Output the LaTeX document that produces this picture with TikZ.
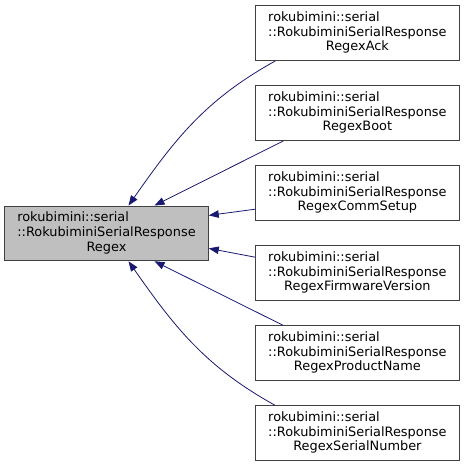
\documentclass[tikz,border=0pt]{standalone}
\usepackage{fontspec}
\setmainfont{DejaVu Sans}
\usetikzlibrary{arrows.meta,positioning}
\definecolor{edge}{HTML}{191970}
\definecolor{frame}{HTML}{404040}
\definecolor{basefill}{HTML}{BFBFBF}
\newcommand{\respname}[1]{\begin{tabular}{@{}l@{}}rokubimini::serial\\::RokubiminiSerialResponse\\\multicolumn{1}{@{}c@{}}{#1}\end{tabular}}

\begin{document}
\begin{tikzpicture}[x=1pt,y=1pt,font=\fontsize{12.9}{14.7}\selectfont,node distance=24.3pt,
cls/.style={draw=frame,line width=1pt,fill=white,inner sep=0pt,minimum width=203.5pt,minimum height=54.7pt},
arr/.style={{Triangle[length=10pt,width=7.5pt]}-,draw=edge,line width=.8pt}]
\useasboundingbox (0,0) rectangle (464,467);
\node[cls,fill=basefill](base) at (106.5,233.6){\respname{Regex}};
\node[cls](ack) at (357.4,433.8){\respname{RegexAck}};
\node[cls,below=of ack](boot){\respname{RegexBoot}};
\node[cls,below=of boot](comm){\respname{RegexCommSetup}};
\node[cls,below=of comm](firm){\respname{RegexFirmwareVersion}};
\node[cls,below=of firm](prod){\respname{RegexProductName}};
\node[cls,below=of prod](serno){\respname{RegexSerialNumber}};
\draw[arr]([xshift=22pt]base.north) to[out=55,in=209] ([xshift=20pt]ack.south west);
\draw[arr]([xshift=48pt]base.north) -- ([xshift=28pt]boot.south west);
\draw[arr]([yshift=18pt]base.east) -- ([yshift=-16pt]comm.west);
\draw[arr]([yshift=-15pt]base.east) -- ([yshift=16pt]firm.west);
\draw[arr]([xshift=48pt]base.south) -- ([xshift=28pt]prod.north west);
\draw[arr]([xshift=22pt]base.south) to[out=-55,in=151] ([xshift=20pt]serno.north west);
\end{tikzpicture}
\end{document}
